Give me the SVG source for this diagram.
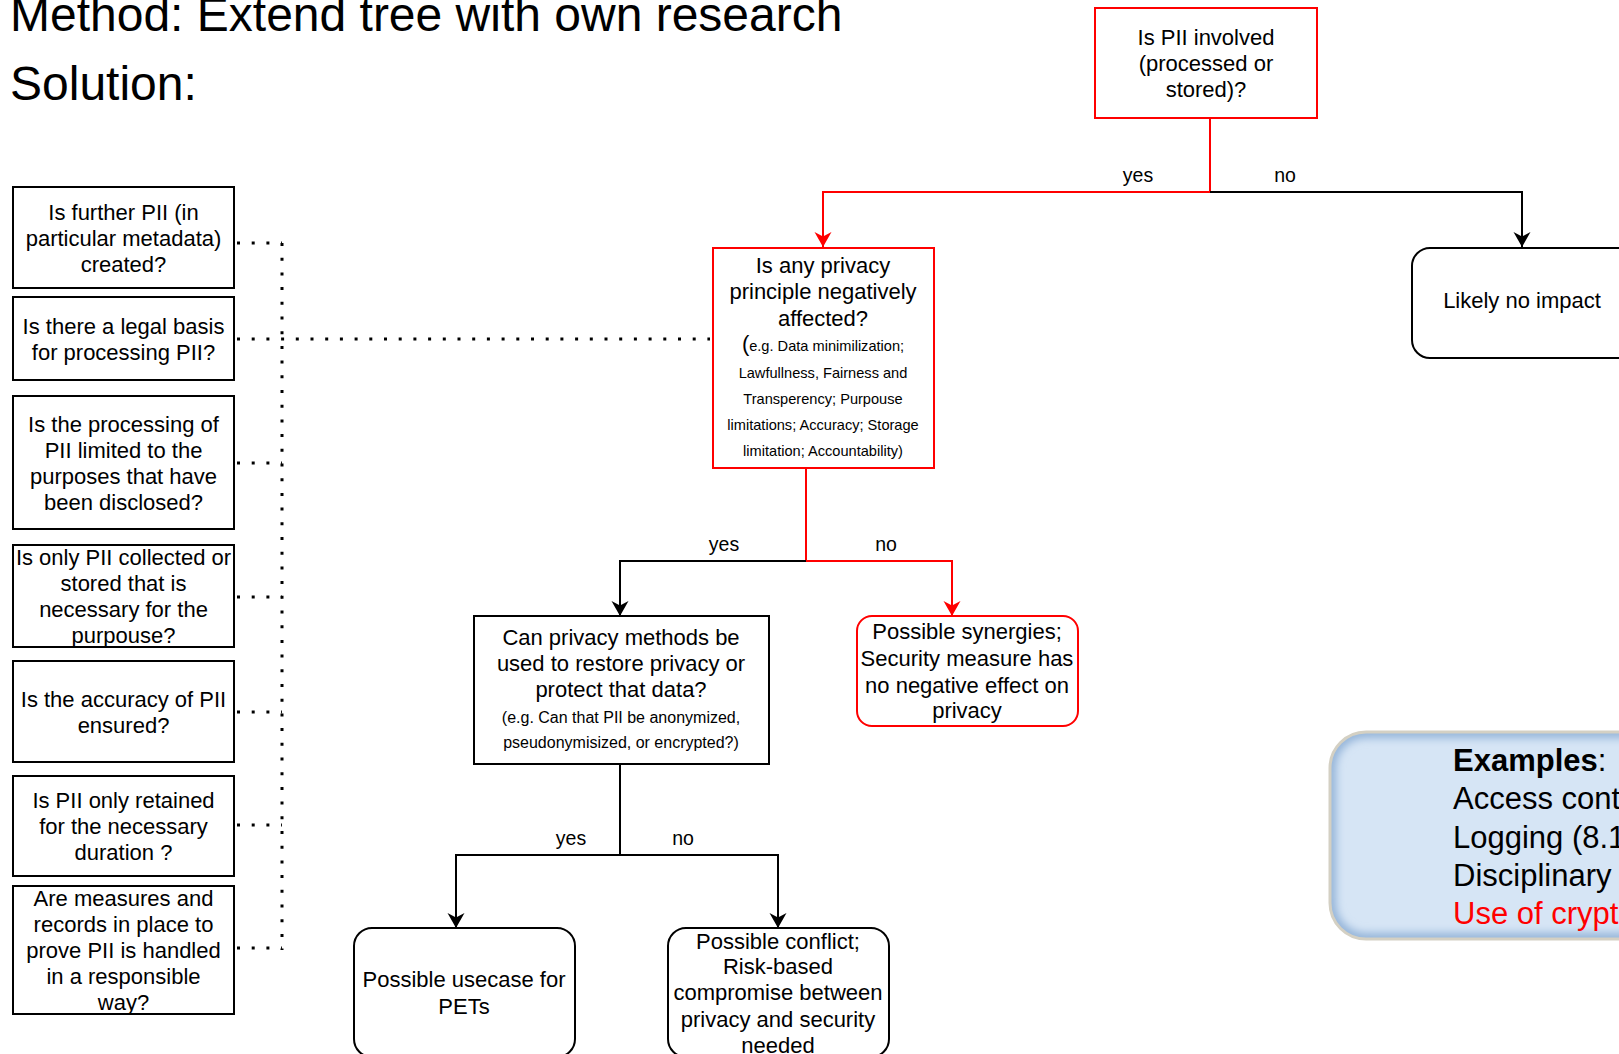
<svg xmlns="http://www.w3.org/2000/svg" width="1619" height="1054" viewBox="0 0 1619 1054">
<style>
text{font-family:"Liberation Sans",Arial,Helvetica,sans-serif;fill:#000}
.t{font-size:22px;text-anchor:middle}
.s1{font-size:14.6px}
.s2{font-size:16px;text-anchor:middle}
.lbl{font-size:19.5px;text-anchor:middle}
.box{fill:#fff;stroke:#000;stroke-width:2}
.rbox{fill:#fff;stroke:#ff0000;stroke-width:2}
.ln{fill:none;stroke:#000;stroke-width:2}
.rln{fill:none;stroke:#ff0000;stroke-width:2}
.dot{fill:none;stroke:#000;stroke-width:3;stroke-dasharray:3 11.7}
.title{font-size:48px}
.ex{font-size:31px}
</style>
<defs>
<marker id="ab" viewBox="0 -10 20 20" refX="15" refY="0" markerWidth="20" markerHeight="20" markerUnits="userSpaceOnUse" orient="auto">
<path d="M0,-8.5 L15,0 L0,8.5 L4.5,0 Z" fill="#000"/>
</marker>
<marker id="ar" viewBox="0 -10 20 20" refX="15" refY="0" markerWidth="20" markerHeight="20" markerUnits="userSpaceOnUse" orient="auto">
<path d="M0,-8.5 L15,0 L0,8.5 L4.5,0 Z" fill="#ff0000"/>
</marker>
<clipPath id="exClip"><rect x="1330" y="732" width="400" height="207" rx="36"/></clipPath>
<filter id="blur" x="-10%" y="-20%" width="120%" height="140%"><feGaussianBlur stdDeviation="4"/></filter>
</defs>
<rect width="1619" height="1054" fill="#fff"/>

<g id="title">
<text class="title" x="10" y="31">Method: Extend tree with own research</text>
<text class="title" x="10" y="100">Solution:</text>
</g>

<g id="connectors">
<path class="rln" d="M1210,118 V192 H823 V247" marker-end="url(#ar)"/>
<path class="ln" d="M1210,192 H1522 V247" marker-end="url(#ab)"/>
<path class="rln" d="M806,468 V561 H952 V616" marker-end="url(#ar)"/>
<path class="ln" d="M806,561 H620 V616" marker-end="url(#ab)"/>
<path class="ln" d="M620,764 V855 H456 V928" marker-end="url(#ab)"/>
<path class="ln" d="M620,855 H778 V928" marker-end="url(#ab)"/>
<path class="dot" d="M282,243 V950"/>
<path class="dot" d="M237,243 H282"/>
<path class="dot" d="M237,339 H710"/>
<path class="dot" d="M237,463 H282"/>
<path class="dot" d="M237,597 H282"/>
<path class="dot" d="M237,712 H282"/>
<path class="dot" d="M237,825 H282"/>
<path class="dot" d="M237,948 H282"/>
<text class="lbl" x="1138" y="182">yes</text>
<text class="lbl" x="1285" y="182">no</text>
<text class="lbl" x="724" y="551">yes</text>
<text class="lbl" x="886" y="551">no</text>
<text class="lbl" x="571" y="845">yes</text>
<text class="lbl" x="683" y="845">no</text>
</g>

<g id="n-pii">
<rect class="rbox" x="1095" y="8" width="222" height="110"/>
<text class="t" x="1206" y="45">Is PII involved</text>
<text class="t" x="1206" y="71">(processed or</text>
<text class="t" x="1206" y="97">stored)?</text>
</g>

<g id="n-noimpact">
<rect class="box" x="1412" y="248" width="240" height="110" rx="18"/>
<text class="t" x="1522" y="308">Likely no impact</text>
</g>

<g id="n-principle">
<rect class="rbox" x="713" y="248" width="221" height="220"/>
<text class="t" x="823" y="273">Is any privacy</text>
<text class="t" x="823" y="299">principle negatively</text>
<text class="t" x="823" y="326">affected?</text>
<text class="s1" x="823" y="351" text-anchor="middle"><tspan font-size="22">(</tspan>e.g. Data minimilization;</text>
<text class="s1" x="823" y="378" text-anchor="middle">Lawfullness, Fairness and</text>
<text class="s1" x="823" y="404" text-anchor="middle">Transperency; Purpouse</text>
<text class="s1" x="823" y="430" text-anchor="middle">limitations; Accuracy; Storage</text>
<text class="s1" x="823" y="456" text-anchor="middle">limitation; Accountability)</text>
</g>

<g id="n-methods">
<rect class="box" x="474" y="616" width="295" height="148"/>
<text class="t" x="621" y="645">Can privacy methods be</text>
<text class="t" x="621" y="671">used to restore privacy or</text>
<text class="t" x="621" y="697">protect that data?</text>
<text class="s2" x="621" y="723">(e.g. Can that PII be anonymized,</text>
<text class="s2" x="621" y="748">pseudonymisized, or encrypted?)</text>
</g>

<g id="n-synergies">
<rect class="rbox" x="857" y="616" width="221" height="110" rx="15"/>
<text class="t" x="967" y="639">Possible synergies;</text>
<text class="t" x="967" y="666">Security measure has</text>
<text class="t" x="967" y="693">no negative effect on</text>
<text class="t" x="967" y="718">privacy</text>
</g>

<g id="n-pets">
<rect class="box" x="354" y="928" width="221" height="129" rx="18"/>
<text class="t" x="464" y="987">Possible usecase for</text>
<text class="t" x="464" y="1014">PETs</text>
</g>

<g id="n-conflict">
<rect class="box" x="668" y="928" width="221" height="129" rx="18"/>
<text class="t" x="778" y="949">Possible conflict;</text>
<text class="t" x="778" y="974">Risk-based</text>
<text class="t" x="778" y="1000">compromise between</text>
<text class="t" x="778" y="1027">privacy and security</text>
<text class="t" x="778" y="1053">needed</text>
</g>

<g id="n-q1">
<rect class="box" x="13" y="187" width="221" height="101"/>
<text class="t" x="123.5" y="219.5">Is further PII (in</text>
<text class="t" x="123.5" y="245.5">particular metadata)</text>
<text class="t" x="123.5" y="271.5">created?</text>
</g>
<g id="n-q2">
<rect class="box" x="13" y="297" width="221" height="83"/>
<text class="t" x="123.5" y="333.5">Is there a legal basis</text>
<text class="t" x="123.5" y="359.5">for processing PII?</text>
</g>
<g id="n-q3">
<rect class="box" x="13" y="396" width="221" height="133"/>
<text class="t" x="123.5" y="431.5">Is the processing of</text>
<text class="t" x="123.5" y="457.5">PII limited to the</text>
<text class="t" x="123.5" y="483.5">purposes that have</text>
<text class="t" x="123.5" y="509.5">been disclosed?</text>
</g>
<g id="n-q4">
<rect class="box" x="13" y="545" width="221" height="102"/>
<text class="t" x="123.5" y="565">Is only PII collected or</text>
<text class="t" x="123.5" y="591">stored that is</text>
<text class="t" x="123.5" y="617">necessary for the</text>
<text class="t" x="123.5" y="643">purpouse?</text>
</g>
<g id="n-q5">
<rect class="box" x="13" y="661" width="221" height="101"/>
<text class="t" x="123.5" y="706.5">Is the accuracy of PII</text>
<text class="t" x="123.5" y="732.5">ensured?</text>
</g>
<g id="n-q6">
<rect class="box" x="13" y="776" width="221" height="100"/>
<text class="t" x="123.5" y="808">Is PII only retained</text>
<text class="t" x="123.5" y="834">for the necessary</text>
<text class="t" x="123.5" y="860">duration ?</text>
</g>
<g id="n-q7">
<rect class="box" x="13" y="886" width="221" height="128"/>
<text class="t" x="123.5" y="906">Are measures and</text>
<text class="t" x="123.5" y="932">records in place to</text>
<text class="t" x="123.5" y="958">prove PII is handled</text>
<text class="t" x="123.5" y="984">in a responsible</text>
<text class="t" x="123.5" y="1010">way?</text>
</g>

<g id="n-examples">
<rect x="1330" y="732" width="400" height="207" rx="36" fill="#D6E5F5"/>
<rect x="1330" y="732" width="400" height="207" rx="36" fill="none" stroke="#93B3D8" stroke-width="12" filter="url(#blur)" clip-path="url(#exClip)"/>
<rect x="1330" y="732" width="400" height="207" rx="36" fill="none" stroke="#D4D0C3" stroke-width="3"/>
<text class="ex" x="1453" y="771"><tspan font-weight="bold">Examples</tspan>:</text>
<text class="ex" x="1453" y="809">Access control</text>
<text class="ex" x="1453" y="848">Logging (8.15)</text>
<text class="ex" x="1453" y="886">Disciplinary process</text>
<text class="ex" x="1453" y="924" style="fill:#ff0000">Use of cryptography</text>
</g>
</svg>
